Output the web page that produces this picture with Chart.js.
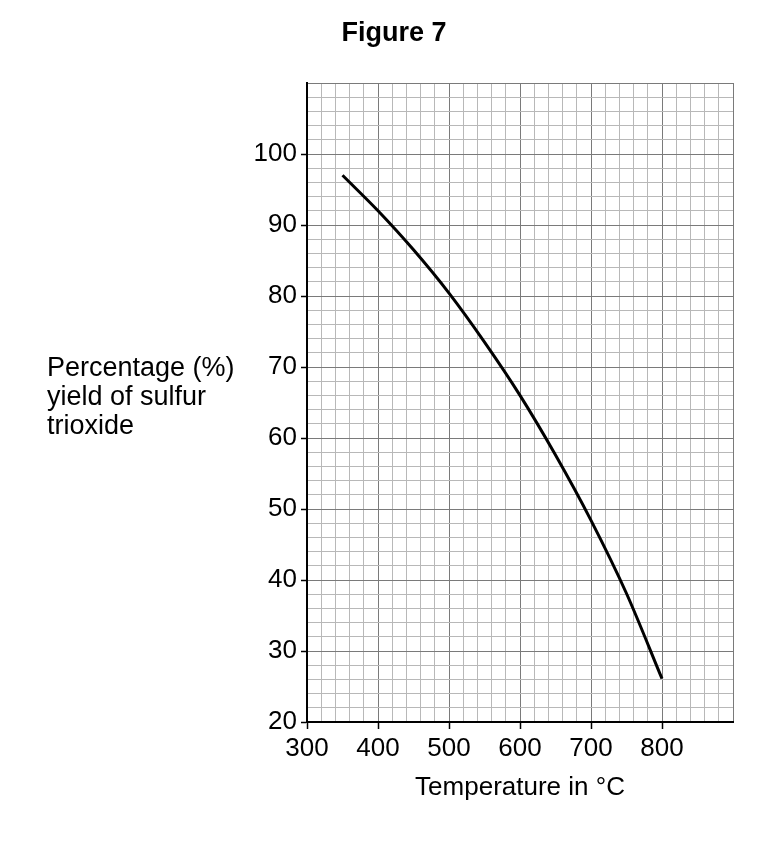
<!DOCTYPE html>
<html>
<head>
<meta charset="utf-8">
<script src="https://cdn.jsdelivr.net/npm/chart.js@4.4.0/dist/chart.umd.min.js"></script>
<style>
  body { margin: 0; background: #fff; }
  #wrap { position: relative; width: 760px; height: 850px; }
  #fig { position: absolute; left: 0; width: 788px; top: 19px; text-align: center;
         font: bold 27px "Liberation Sans", Arial, sans-serif; line-height: 27px; color: #000; }
  #ylab { position: absolute; left: 47px; top: 353px;
          font: 27px "Liberation Sans", Arial, sans-serif; line-height: 29px; color: #000; }
  canvas { position: absolute; left: 0; top: 0; }
</style>
</head>
<body>
<div id="wrap">
  <canvas id="myChart" width="760" height="850"></canvas>
  <div id="fig">Figure 7</div>
  <div id="ylab">Percentage (%)<br>yield of sulfur<br>trioxide</div>
</div>
<script>
var temps = [350, 400, 450, 500, 550, 600, 650, 700, 750, 800];
var yields = [97, 92, 86.5, 80.4, 73.5, 66, 57.6, 48.4, 38.1, 26.1];
var xTickLabels = [300, 400, 500, 600, 700, 800];
var yTickLabels = [20, 30, 40, 50, 60, 70, 80, 90, 100];

var points = temps.map(function (t, i) { return {x: t, y: yields[i]}; });
var fontFamily = '"Liberation Sans", Arial, sans-serif';

// graph paper: darker every 100 / 10, light squares in between
var xMajor = function (ctx) { return ctx.tick && ctx.tick.value % 100 === 0; };
var yMajor = function (ctx) { return ctx.tick && ctx.tick.value % 10 === 0; };

new Chart("myChart", {
  type: "line",
  data: {
    datasets: [{
      data: points,
      borderColor: "#000",
      borderWidth: 3,
      pointRadius: 0,
      fill: false,
      tension: 0.4,
      cubicInterpolationMode: "monotone"
    }]
  },
  options: {
    responsive: false,
    animation: false,
    devicePixelRatio: 1,
    layout: {padding: {top: 83, right: 27, bottom: 47, left: 0}},
    plugins: {legend: {display: false}, tooltip: {enabled: false}},
    scales: {
      x: {
        type: "linear",
        min: 300,
        max: 900,
        afterFit: function (s) { s.height = 81; },
        ticks: {
          stepSize: 20,
          maxTicksLimit: 100,
          autoSkip: false,
          maxRotation: 0,
          padding: 4,
          color: "#000",
          font: {family: fontFamily, size: 26},
          callback: function (v) { return xTickLabels.indexOf(v) >= 0 ? String(v) : ""; }
        },
        grid: {
          color: function (ctx) { return xMajor(ctx) ? "#7a7a7a" : "#b8b8b8"; },
          lineWidth: 1,
          tickLength: 7,
          tickColor: function (ctx) { return xMajor(ctx) && ctx.tick.value <= 800 ? "#000" : "rgba(0,0,0,0)"; },
          tickWidth: 1.5
        },
        border: {color: "#000", width: 2},
        title: {
          display: true,
          text: "Temperature in °C",
          color: "#000",
          padding: {top: 0, bottom: 0},
          font: {family: fontFamily, size: 26}
        }
      },
      y: {
        type: "linear",
        min: 20,
        max: 110,
        afterFit: function (s) { s.width = 307; },
        ticks: {
          stepSize: 2,
          maxTicksLimit: 100,
          autoSkip: false,
          padding: 4,
          color: "#000",
          font: {family: fontFamily, size: 26},
          callback: function (v) { return yTickLabels.indexOf(v) >= 0 ? String(v) : ""; }
        },
        grid: {
          color: function (ctx) { return yMajor(ctx) ? "#7a7a7a" : "#b8b8b8"; },
          lineWidth: 1,
          tickLength: 6,
          tickColor: function (ctx) { return yMajor(ctx) && ctx.tick.value <= 100 ? "#000" : "rgba(0,0,0,0)"; },
          tickWidth: 1.5
        },
        border: {color: "#000", width: 2}
      }
    }
  }
});
</script>
</body>
</html>
